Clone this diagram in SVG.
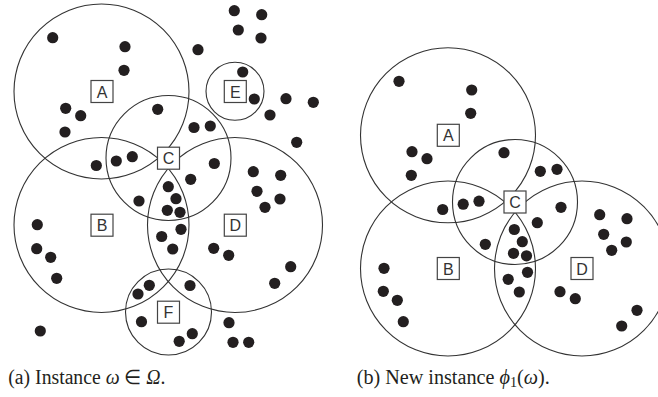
<svg xmlns="http://www.w3.org/2000/svg" width="658" height="397" viewBox="0 0 658 397">
<style>
.c{fill:none;stroke:#333;stroke-width:1.1}
.b{fill:#fff;stroke:#444;stroke-width:1.2}
.l{font-family:"Liberation Sans",Arial,sans-serif;font-size:16px;fill:#333;text-anchor:middle}
.p circle{fill:#231f20}
.cap{font-family:"Liberation Serif","Times New Roman",serif;font-size:20px;fill:#231f20}
</style>
<rect width="658" height="397" fill="#fff"/>

<!-- panel (a) circles -->
<g id="nodes-a">
<g id="a-A"><circle class="c" cx="101.5" cy="91.5" r="87.5"/></g>
<g id="a-B"><circle class="c" cx="101.5" cy="225" r="87.5"/></g>
<g id="a-D"><circle class="c" cx="235" cy="225" r="87.5"/></g>
<g id="a-E"><circle class="c" cx="235" cy="91.3" r="29"/></g>
<g id="a-F"><circle class="c" cx="168.5" cy="312" r="43"/></g>
<g id="a-C"><circle class="c" cx="168.5" cy="158" r="62.5"/></g>
</g>

<g class="p" id="points-a">
<circle cx="52.7" cy="37.7" r="5.6"/>
<circle cx="125" cy="46.7" r="5.6"/>
<circle cx="124" cy="70.3" r="5.6"/>
<circle cx="65.7" cy="108.3" r="5.6"/>
<circle cx="80.7" cy="115.7" r="5.6"/>
<circle cx="65" cy="132" r="5.6"/>
<circle cx="157.7" cy="109.3" r="5.6"/>
<circle cx="194" cy="127.5" r="5.6"/>
<circle cx="198" cy="49.7" r="5.6"/>
<circle cx="132.3" cy="156.7" r="5.6"/>
<circle cx="116.3" cy="161" r="5.6"/>
<circle cx="96.3" cy="165.5" r="5.6"/>
<circle cx="234.3" cy="10.7" r="5.6"/>
<circle cx="261.7" cy="14.7" r="5.6"/>
<circle cx="238.3" cy="30" r="5.6"/>
<circle cx="261" cy="38" r="5.6"/>
<circle cx="242.7" cy="72" r="5.6"/>
<circle cx="254.3" cy="99" r="5.6"/>
<circle cx="286" cy="98.7" r="5.6"/>
<circle cx="313.3" cy="102.3" r="5.6"/>
<circle cx="270" cy="115" r="5.6"/>
<circle cx="210.3" cy="126" r="5.6"/>
<circle cx="296.7" cy="142.3" r="5.6"/>
<circle cx="214.3" cy="163.5" r="5.6"/>
<circle cx="253.3" cy="171.7" r="5.6"/>
<circle cx="280.7" cy="175.3" r="5.6"/>
<circle cx="257" cy="191.3" r="5.6"/>
<circle cx="280" cy="199" r="5.6"/>
<circle cx="265" cy="207.3" r="5.6"/>
<circle cx="190.7" cy="179.3" r="5.6"/>
<circle cx="139" cy="201" r="5.6"/>
<circle cx="168.3" cy="186.7" r="5.6"/>
<circle cx="176" cy="198.7" r="5.6"/>
<circle cx="167.3" cy="210.3" r="5.6"/>
<circle cx="180" cy="212.3" r="5.6"/>
<circle cx="181" cy="229.3" r="5.6"/>
<circle cx="161.7" cy="236.5" r="5.6"/>
<circle cx="172.7" cy="249" r="5.6"/>
<circle cx="37.3" cy="224.7" r="5.6"/>
<circle cx="36.7" cy="248.7" r="5.6"/>
<circle cx="50.7" cy="257.3" r="5.6"/>
<circle cx="56.7" cy="278.3" r="5.6"/>
<circle cx="149.3" cy="285.3" r="5.6"/>
<circle cx="138" cy="294" r="5.6"/>
<circle cx="190" cy="285.5" r="5.6"/>
<circle cx="141.5" cy="321.7" r="5.6"/>
<circle cx="40.3" cy="331" r="5.6"/>
<circle cx="192.3" cy="333.7" r="5.6"/>
<circle cx="179.2" cy="341.3" r="5.6"/>
<circle cx="213.7" cy="248.3" r="5.6"/>
<circle cx="228.7" cy="255.3" r="5.6"/>
<circle cx="290.7" cy="266.7" r="5.6"/>
<circle cx="274.7" cy="283.3" r="5.6"/>
<circle cx="229" cy="322.7" r="5.6"/>
<circle cx="233" cy="342.3" r="5.6"/>
<circle cx="248.7" cy="342.3" r="5.6"/>
</g>

<g id="labels-a">
<g id="a-A-label"><rect class="b" x="91" y="80.5" width="22" height="22"/><text class="l" x="102" y="97.5">A</text></g>
<g id="a-B-label"><rect class="b" x="91" y="214.2" width="22" height="22"/><text class="l" x="102" y="231.2">B</text></g>
<g id="a-D-label"><rect class="b" x="224.3" y="214.2" width="22" height="22"/><text class="l" x="235.3" y="231.2">D</text></g>
<g id="a-E-label"><rect class="b" x="224.3" y="80.5" width="22" height="22"/><text class="l" x="235.3" y="97.5">E</text></g>
<g id="a-F-label"><rect class="b" x="157.5" y="301.2" width="22" height="22"/><text class="l" x="168.5" y="318.2">F</text></g>
<g id="a-C-label"><rect class="b" x="157.5" y="147.2" width="22" height="22"/><text class="l" x="168.5" y="164.2">C</text></g>
</g>

<!-- panel (b) -->
<g id="nodes-b">
<g id="b-A"><circle class="c" cx="448" cy="135.3" r="87.5"/></g>
<g id="b-B"><circle class="c" cx="448" cy="268.5" r="87.5"/></g>
<g id="b-D"><circle class="c" cx="582" cy="268.5" r="87.5"/></g>
<g id="b-C"><circle class="c" cx="515" cy="202" r="62.5"/></g>
</g>

<g class="p" id="points-b">
<circle cx="399" cy="81.3" r="5.6"/>
<circle cx="471.7" cy="90" r="5.6"/>
<circle cx="470.7" cy="113.3" r="5.6"/>
<circle cx="412" cy="151.7" r="5.6"/>
<circle cx="427" cy="158.7" r="5.6"/>
<circle cx="411.3" cy="175.3" r="5.6"/>
<circle cx="504" cy="152.7" r="5.6"/>
<circle cx="442.7" cy="209.5" r="5.6"/>
<circle cx="463.2" cy="204.2" r="5.6"/>
<circle cx="479" cy="201.2" r="5.6"/>
<circle cx="540.3" cy="171.3" r="5.6"/>
<circle cx="557" cy="169.3" r="5.6"/>
<circle cx="561" cy="207.3" r="5.6"/>
<circle cx="537.3" cy="222.7" r="5.6"/>
<circle cx="485.3" cy="244.3" r="5.6"/>
<circle cx="514.3" cy="229.5" r="5.6"/>
<circle cx="522.3" cy="241.7" r="5.6"/>
<circle cx="513.5" cy="253.3" r="5.6"/>
<circle cx="526.5" cy="255.8" r="5.6"/>
<circle cx="527.5" cy="272.3" r="5.6"/>
<circle cx="508.2" cy="279.3" r="5.6"/>
<circle cx="519.3" cy="292" r="5.6"/>
<circle cx="599.7" cy="214.7" r="5.6"/>
<circle cx="627" cy="218.7" r="5.6"/>
<circle cx="603.7" cy="234.3" r="5.6"/>
<circle cx="626.3" cy="242" r="5.6"/>
<circle cx="611.7" cy="250.3" r="5.6"/>
<circle cx="560" cy="291.7" r="5.6"/>
<circle cx="575.3" cy="298.7" r="5.6"/>
<circle cx="637" cy="310.3" r="5.6"/>
<circle cx="621.7" cy="326" r="5.6"/>
<circle cx="384" cy="268.3" r="5.6"/>
<circle cx="383.3" cy="291.3" r="5.6"/>
<circle cx="397.3" cy="300.3" r="5.6"/>
<circle cx="403.3" cy="321.7" r="5.6"/>
</g>

<g id="labels-b">
<g id="b-A-label"><rect class="b" x="437.3" y="124.3" width="22" height="22"/><text class="l" x="448.3" y="141.3">A</text></g>
<g id="b-B-label"><rect class="b" x="437.3" y="257.5" width="22" height="22"/><text class="l" x="448.3" y="274.5">B</text></g>
<g id="b-D-label"><rect class="b" x="571" y="257.5" width="22" height="22"/><text class="l" x="582" y="274.5">D</text></g>
<g id="b-C-label"><rect class="b" x="504" y="191" width="22" height="22"/><text class="l" x="515" y="208">C</text></g>
</g>

<g id="captions">
<text class="cap" x="8.3" y="384.3" textLength="157" lengthAdjust="spacingAndGlyphs">(a) Instance <tspan font-style="italic">ω</tspan> ∈ <tspan font-style="italic">Ω</tspan>.</text>
<text class="cap" x="356.7" y="384.3" textLength="193" lengthAdjust="spacingAndGlyphs">(b) New instance <tspan font-style="italic">ϕ</tspan><tspan font-size="14" dy="3">1</tspan><tspan dy="-3">(</tspan><tspan font-style="italic">ω</tspan>).</text>
</g>
</svg>
